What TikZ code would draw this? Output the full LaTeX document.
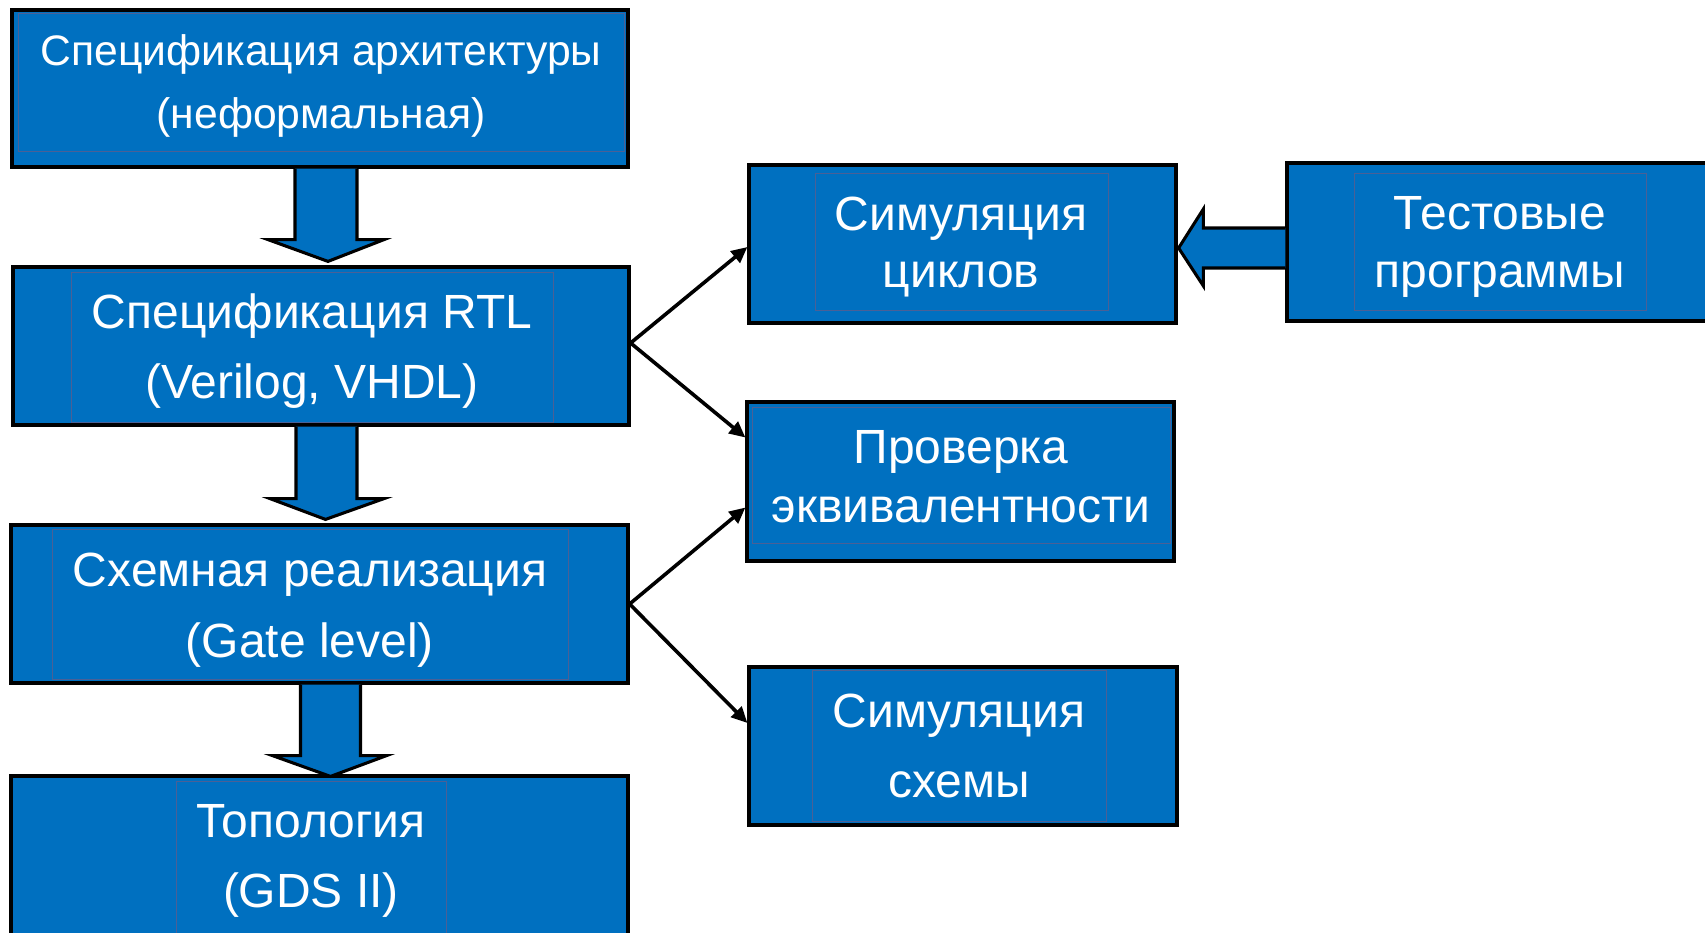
\documentclass[tikz,border=0pt]{standalone}
\usepackage{fontspec}
\setmainfont{Liberation Sans}
\usetikzlibrary{arrows.meta,calc,fit}

\definecolor{boxblue}{RGB}{0,112,192}
\definecolor{frameline}{RGB}{74,96,150}

\tikzset{
  stage/.style={draw=black, line width=2.4pt, fill=boxblue, inner sep=0pt},
  textframe/.style={draw=frameline, line width=0.6pt},
  lbl/.style={anchor=base, text=white, inner sep=0pt},
  flow/.style={draw=black, line width=2.3pt, fill=boxblue, line join=miter},
  link/.style={draw=black, line width=2.7pt, -{Triangle[length=12pt,width=11pt]}},
}

% two centred text lines on given baselines
\newcommand\twolines[7]{%
  \node[lbl, font=\fontsize{#5}{#5}\selectfont] (#1a) at (#2,#3) {#6};
  \node[lbl, font=\fontsize{#5}{#5}\selectfont] (#1b) at (#2,#4) {#7};
}

\begin{document}
\begin{tikzpicture}[x=0.75pt, y=-0.75pt]
\useasboundingbox (0,0) rectangle (1705,932);
\clip (0,0) rectangle (1705,932);

% ---- stage boxes ----
\node[stage, fit={(12,10) (628,167)}] (b1) {};
\node[stage, fit={(13,267) (629,425)}] (b2) {};
\node[stage, fit={(11,525) (628,683)}] (b3) {};
\node[stage, fit={(11,776) (628,950)}] (b4) {};
\node[stage, fit={(749,165) (1176,323)}] (sc) {};
\node[stage, fit={(747,402) (1174,561)}] (pv) {};
\node[stage, fit={(749,667) (1177,825)}] (ss) {};
\node[stage, fit={(1287,163) (1725,321)}] (tp) {};

% ---- inner text frames ----
\draw[textframe] (18,13) rectangle (624,151);
\draw[textframe] (71,272) rectangle (553,422);
\draw[textframe] (52,529) rectangle (568,679);
\draw[textframe] (176,781) rectangle (446,950);
\draw[textframe] (815,173) rectangle (1108,310);
\draw[textframe] (752,407) rectangle (1170,543);
\draw[textframe] (812,670) rectangle (1106,821);
\draw[textframe] (1354,173) rectangle (1646,310);

% ---- labels ----
\twolines{t1}{321}{65}{128}{32}{Спецификация архитектуры}{(неформальная)}
\twolines{t2}{312}{328}{398}{36}{Спецификация RTL}{(Verilog, VHDL)}
\twolines{t3}{310}{586}{657}{36}{Схемная реализация}{(Gate level)}
\twolines{t4}{311}{837}{907}{36}{Топология}{(GDS II)}
\twolines{t5}{961}{230}{287}{36}{Симуляция}{циклов}
\twolines{t6}{961}{463}{522}{36}{Проверка}{эквивалентности}
\twolines{t7}{959}{727}{797}{36}{Симуляция}{схемы}
\twolines{t8}{1500}{229}{287}{36}{Тестовые}{программы}

% ---- block arrows between stages ----
\draw[flow] ($(b1.south)+(-25,0)$) -- ($(b1.south)+(-25,71)$) -- ($(b1.south)+(-52,71)$)
  -- ($(b2.north)+(7,-4)$) -- ($(b1.south)+(64,71)$) -- ($(b1.south)+(37,71)$)
  -- ($(b1.south)+(37,0)$);
\draw[flow] ($(b2.south)+(-25,0)$) -- ($(b2.south)+(-25,72)$) -- ($(b2.south)+(-51,72)$)
  -- ($(b3.north)+(6,-4)$) -- ($(b2.south)+(63,72)$) -- ($(b2.south)+(36,72)$)
  -- ($(b2.south)+(36,0)$);
\draw[flow] ($(b3.south)+(-19,0)$) -- ($(b3.south)+(-19,71)$) -- ($(b3.south)+(-47,71)$)
  -- ($(b4.north)+(11,2)$) -- ($(b3.south)+(67,71)$) -- ($(b3.south)+(41,71)$)
  -- ($(b3.south)+(41,0)$);
\draw[flow] ($(tp.west)+(0,-14)$) -- ($(tp.west)+(-82,-14)$) -- ($(tp.west)+(-82,-33)$)
  -- ($(sc.east)+(1,4)$) -- ($(tp.west)+(-82,44)$) -- ($(tp.west)+(-82,26)$)
  -- ($(tp.west)+(0,26)$);

% ---- check links ----
\coordinate (scin) at ($(sc.west)+(0,3)$);
\coordinate (pvin1) at ($(pv.west)+(0,-44)$);
\coordinate (pvin2) at ($(pv.west)+(0,26)$);
\coordinate (ssin) at ($(ss.west)+(0,-23)$);
\draw[link] ($(b2.east)+(0,-3)$) -- (scin);
\draw[link] ($(b2.east)+(0,-3)$) -- (pvin1);
\draw[link] (b3.east) -- (pvin2);
\draw[link] (b3.east) -- (ssin);
\end{tikzpicture}
\end{document}
